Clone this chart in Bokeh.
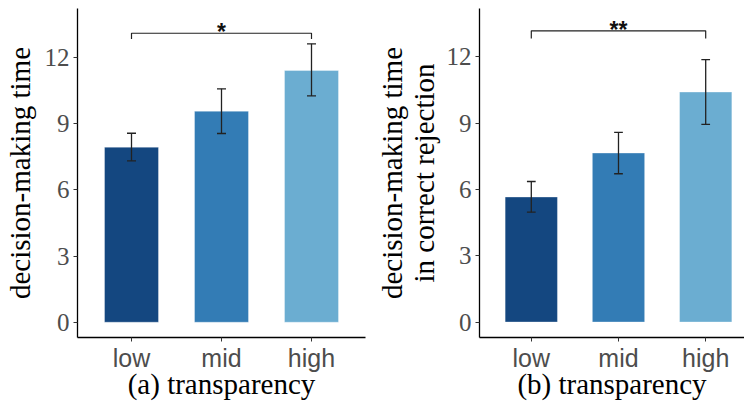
from bokeh.plotting import figure
from bokeh.layouts import row
from bokeh.models import FixedTicker, ColumnDataSource
from bokeh.embed import file_html
from bokeh.resources import INLINE

# ---- data ----
categories = ["low", "mid", "high"]
colors = ["#144780", "#337CB5", "#6BADD1"]

a_mean = [7.93, 9.56, 11.40]
a_lower = [7.31, 8.55, 10.25]
a_upper = [8.56, 10.57, 12.61]
a_sig = "*"
a_sig_y = 13.09
a_sig_tick = 12.83

b_mean = [5.66, 7.65, 10.41]
b_lower = [4.97, 6.71, 8.95]
b_upper = [6.36, 8.58, 11.88]
b_sig = "**"
b_sig_y = 13.18
b_sig_tick = 12.83

y_ticks = [0, 3, 6, 9, 12]

SERIF = "Liberation Serif"
SANS = "Liberation Sans"


def panel(mean, lower, upper, sig, sig_y, sig_tick, xlabel, ylabel,
          width, height, x_range, y_range, border_left, border_right, border_top,
          ylab_standoff, ylab_line_height):
    xs = [i + 1 for i in range(len(categories))]
    p = figure(width=width, height=height, x_range=x_range, y_range=y_range,
               title=None, output_backend="svg", toolbar_location=None,
               min_border_left=border_left, min_border_right=border_right,
               min_border_top=border_top, min_border_bottom=0)
    src = ColumnDataSource(dict(x=xs, top=mean, lo=lower, hi=upper, color=colors))
    p.vbar(x="x", top="top", bottom=0, width=0.6, fill_color="color",
           line_color="white", line_alpha=0.35, line_width=1, source=src)
    # error bars
    cap = 0.05
    p.segment(x0="x", y0="lo", x1="x", y1="hi", line_color="#222222", line_width=1.3, source=src)
    p.segment(x0=[x - cap for x in xs], y0=upper, x1=[x + cap for x in xs], y1=upper,
              line_color="#222222", line_width=1.3)
    p.segment(x0=[x - cap for x in xs], y0=lower, x1=[x + cap for x in xs], y1=lower,
              line_color="#222222", line_width=1.3)
    # significance bracket
    x0, x1 = xs[0], xs[-1]
    p.line(x=[x0, x0, x1, x1], y=[sig_tick, sig_y, sig_y, sig_tick],
           line_color="#222222", line_width=1.2)
    p.text(x=[(x0 + x1) / 2], y=[sig_y], text=[sig], text_align="center",
           text_baseline="middle", y_offset=-1, text_font_size="23px",
           text_font_style="bold", text_color="#111111")

    p.xgrid.visible = False
    p.ygrid.visible = False
    p.outline_line_color = None
    p.background_fill_color = "white"
    p.border_fill_color = "white"

    # y axis
    p.yaxis.ticker = FixedTicker(ticks=y_ticks)
    p.yaxis.axis_label = ylabel
    p.yaxis.axis_label_text_font = SERIF
    p.yaxis.axis_label_text_font_size = "29px"
    p.yaxis.axis_label_text_font_style = "normal"
    p.yaxis.axis_label_text_color = "black"
    p.yaxis.axis_label_text_line_height = ylab_line_height
    p.yaxis.axis_label_standoff = ylab_standoff
    p.yaxis.major_label_text_font = SERIF
    p.yaxis.major_label_text_font_size = "25px"
    p.yaxis.major_label_text_color = "#4D4D4D"
    p.yaxis.major_label_standoff = 4
    p.yaxis.major_tick_out = 4
    p.yaxis.major_tick_in = 0
    p.yaxis.minor_tick_out = 0
    p.yaxis.minor_tick_in = 0
    p.yaxis.major_tick_line_color = "#333333"
    p.yaxis.axis_line_color = "black"
    p.yaxis.axis_line_width = 1.3

    # x axis
    p.xaxis.ticker = FixedTicker(ticks=xs)
    p.xaxis.major_label_overrides = {x: c for x, c in zip(xs, categories)}
    p.xaxis.axis_label = xlabel
    p.xaxis.axis_label_text_font = SERIF
    p.xaxis.axis_label_text_font_size = "29px"
    p.xaxis.axis_label_text_font_style = "normal"
    p.xaxis.axis_label_text_color = "black"
    p.xaxis.axis_label_standoff = -7
    p.xaxis.major_label_text_font = SANS
    p.xaxis.major_label_text_font_size = "25px"
    p.xaxis.major_label_text_color = "#4D4D4D"
    p.xaxis.major_label_standoff = 2
    p.xaxis.major_tick_out = 4
    p.xaxis.major_tick_in = 0
    p.xaxis.minor_tick_out = 0
    p.xaxis.minor_tick_in = 0
    p.xaxis.major_tick_line_color = "#333333"
    p.xaxis.axis_line_color = "black"
    p.xaxis.axis_line_width = 1.3
    return p


pa = panel(a_mean, a_lower, a_upper, a_sig, a_sig_y, a_sig_tick,
           "(a) transparency", "decision-making time",
           width=372, height=402, x_range=(0.4, 3.6), y_range=(-0.69, 14.21),
           border_left=77, border_right=7, border_top=2,
           ylab_standoff=6, ylab_line_height=1.0)
pb = panel(b_mean, b_lower, b_upper, b_sig, b_sig_y, b_sig_tick,
           "(b) transparency", "decision-making time\nin correct rejection",
           width=372, height=402, x_range=(0.406, 3.445), y_range=(-0.70, 14.19),
           border_left=107, border_right=0, border_top=8,
           ylab_standoff=4, ylab_line_height=1.0)

layout = row(pa, pb)
open("out.html", "w").write(file_html(layout, INLINE))
